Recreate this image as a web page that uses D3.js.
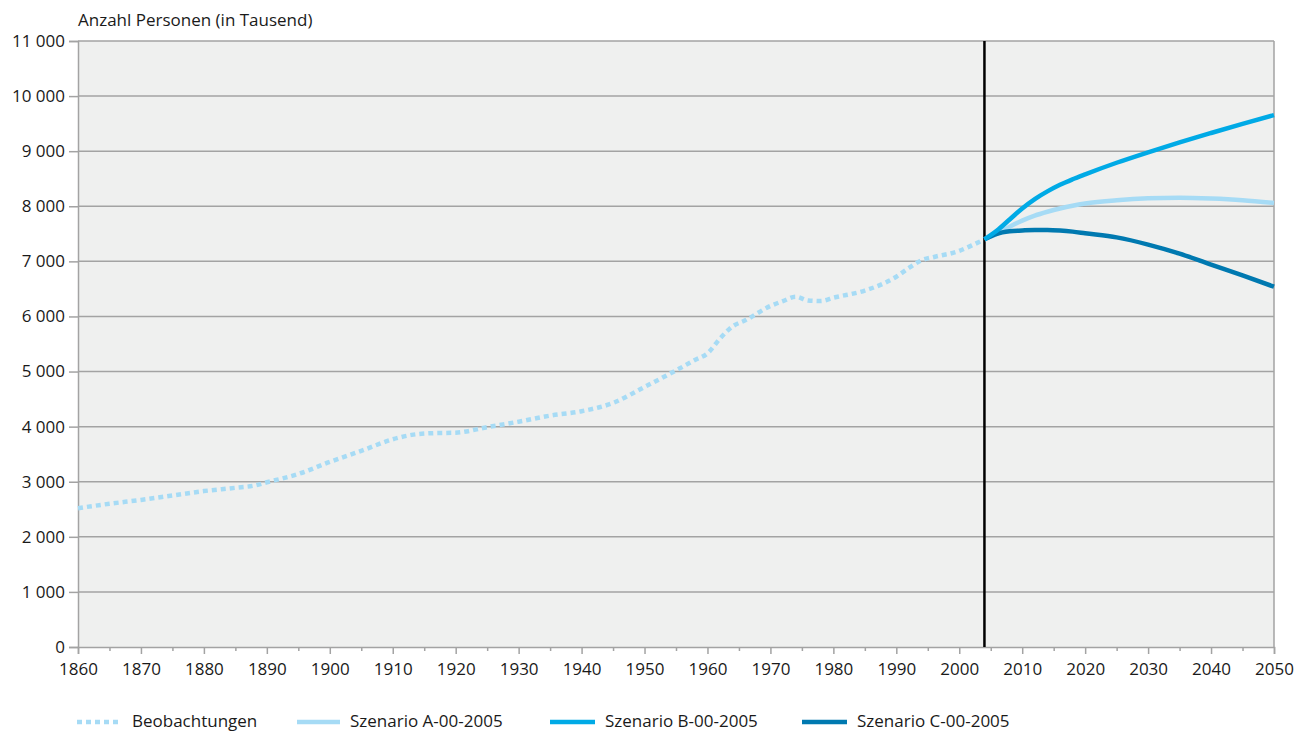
<!DOCTYPE html>
<html><head><meta charset="utf-8">
<script src="https://cdn.jsdelivr.net/npm/d3@7"></script>
<style>body{margin:0;background:#fff}svg text{font-family:"Open Sans",sans-serif;fill:#1a1a1a}</style>
</head><body><svg id="c" width="1298" height="732"></svg>
<script>
const obsYears = [1860,1865,1870,1875,1880,1885,1888,1890,1895,1900,1905,1910,1913,1916,1920,1925,1930,1935,1940,1945,1950,1955,1958,1960,1962,1964,1966,1970,1972,1974,1976,1978,1980,1985,1988,1990,1992,1994,1996,2000,2002,2004];
const obsValues = [2520,2600,2670,2750,2830,2890,2930,2990,3140,3360,3560,3770,3850,3880,3890,3990,4090,4200,4280,4430,4720,5020,5210,5330,5600,5820,5930,6190,6280,6360,6290,6280,6340,6470,6600,6720,6880,7020,7080,7190,7290,7400];
const scenYears = [2004,2006,2008,2010,2012,2014,2016,2018,2020,2025,2030,2035,2040,2045,2050];
const scenA = [7400,7500,7630,7740,7830,7900,7960,8010,8050,8110,8145,8155,8140,8110,8060];
const scenB = [7400,7560,7760,7960,8130,8270,8390,8490,8580,8790,8980,9160,9330,9495,9655];
const scenC = [7400,7500,7545,7560,7570,7570,7560,7540,7510,7435,7305,7140,6940,6745,6540];
const yTicks = [0,1000,2000,3000,4000,5000,6000,7000,8000,9000,10000,11000];
const xTicks = [1860,1870,1880,1890,1900,1910,1920,1930,1940,1950,1960,1970,1980,1990,2000,2010,2020,2030,2040,2050];
const seriesNames = ["Beobachtungen","Szenario A-00-2005","Szenario B-00-2005","Szenario C-00-2005"];
const colors = ["#a6dbf5","#a6dbf5","#00aae6","#0079b0"];
const yAxisTitle = "Anzahl Personen (in Tausend)";
const markerYear = 2004;

const svg = d3.select("#c");
const L=78,R=1274,T=41,B=647;
const FS = "17px";
const x = d3.scaleLinear().domain([1860,2050]).range([L,R]);
const y = d3.scaleLinear().domain([0,11000]).range([B,T]);
const loc = d3.formatLocale({decimal:",",thousands:" ",grouping:[3],currency:["",""]});
const fmt = loc.format(",");

svg.append("rect").attr("x",L).attr("y",T).attr("width",R-L).attr("height",B-T).attr("fill","#eff0ef");
svg.append("g").selectAll("line").data(yTicks.filter(d=>d>0)).join("line")
  .attr("x1",L).attr("x2",R).attr("y1",d=>y(d)).attr("y2",d=>y(d))
  .attr("stroke","#a3a3a3").attr("stroke-width",1.5);
svg.append("line").attr("x1",R).attr("x2",R).attr("y1",T).attr("y2",B).attr("stroke","#a3a3a3").attr("stroke-width",1.5);

const ya = svg.append("g").attr("transform",`translate(${L},0)`)
  .call(d3.axisLeft(y).tickValues(yTicks).tickFormat(fmt).tickSize(9).tickPadding(4));
ya.select(".domain").attr("stroke","#a3a3a3").attr("stroke-width",1.5);
ya.selectAll(".tick line").attr("stroke","#a3a3a3").attr("stroke-width",1.5);
ya.selectAll("text").style("font-size",FS).style("font-family","'Open Sans',sans-serif").attr("fill","#1a1a1a");

const minor = d3.range(1865,2050,10);
svg.append("g").attr("transform",`translate(0,${B})`)
  .call(d3.axisBottom(x).tickValues(minor).tickSize(4).tickFormat(""))
  .call(g=>g.select(".domain").remove())
  .selectAll(".tick line").attr("stroke","#a3a3a3").attr("stroke-width",1.5);
const xa = svg.append("g").attr("transform",`translate(0,${B})`)
  .call(d3.axisBottom(x).tickValues(xTicks).tickFormat(d3.format("d")).tickSize(7).tickPadding(9));
xa.select(".domain").attr("stroke","#a3a3a3").attr("stroke-width",1.5);
xa.selectAll(".tick line").attr("stroke","#a3a3a3").attr("stroke-width",1.5);
xa.selectAll("text").style("font-size",FS).style("font-family","'Open Sans',sans-serif").attr("fill","#1a1a1a");

svg.append("text").attr("x",L).attr("y",26).style("font-size",FS).text(yAxisTitle);

const line = d3.line().x(d=>x(d[0])).y(d=>y(d[1])).curve(d3.curveMonotoneX);
const obs = obsYears.map((d,i)=>[d,obsValues[i]]);
svg.append("path").datum(obs).attr("d",line).attr("fill","none").attr("stroke",colors[0])
  .attr("stroke-width",4.5).attr("stroke-dasharray","5,4");

svg.append("line").attr("x1",x(markerYear)).attr("x2",x(markerYear)).attr("y1",T).attr("y2",B)
  .attr("stroke","#000").attr("stroke-width",2.5);

[[scenA,1],[scenC,3],[scenB,2]].forEach(([s,idx])=>{
  svg.append("path").datum(scenYears.map((d,i)=>[d,s[i]])).attr("d",line).attr("fill","none")
    .attr("stroke",colors[idx]).attr("stroke-width",4.5);
});

const legX = [[77,122,132],[297,340,350],[550,595,605],[802,847,857]];
const ly = 722;
const lg = svg.append("g");
seriesNames.forEach((n,i)=>{
  lg.append("line").attr("x1",legX[i][0]).attr("x2",legX[i][1]).attr("y1",ly).attr("y2",ly)
    .attr("stroke",colors[i]).attr("stroke-width",4.5).attr("stroke-dasharray",i===0?"5,4":null);
  lg.append("text").attr("x",legX[i][2]).attr("y",727).style("font-size",FS).text(n);
});
</script></body></html>
